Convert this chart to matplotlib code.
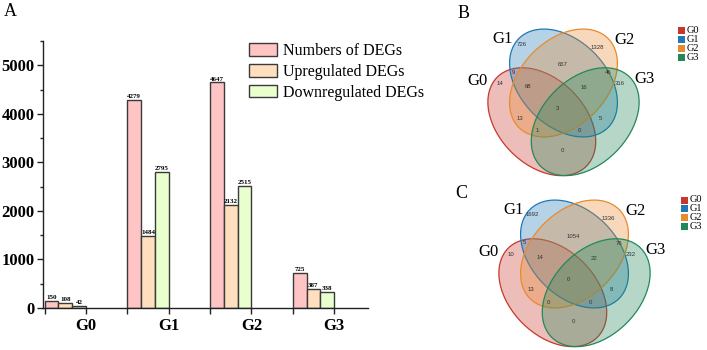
import matplotlib
matplotlib.use('Agg')
import matplotlib.pyplot as plt
from matplotlib.patches import Ellipse, Rectangle
from matplotlib.ticker import MultipleLocator
import numpy as np

plt.rcParams['font.family'] = ['Liberation Serif', 'DejaVu Serif']

# ---------------- data ----------------
groups = ['G0', 'G1', 'G2', 'G3']
numbers_degs = [150, 4279, 4647, 725]
up_degs = [108, 1484, 2132, 387]
down_degs = [42, 2795, 2515, 338]
series_names = ['Numbers of DEGs', 'Upregulated DEGs', 'Downregulated DEGs']

venn_sets = ['G0', 'G1', 'G2', 'G3']
# membership over (G0, G1, G2, G3)
region_keys = ['1000', '0100', '0010', '0001', '1100', '0110', '0011', '1010',
               '0101', '1001', '1110', '0111', '1011', '1101', '1111']
up_counts = [14, 726, 1328, 316, 9, 657, 46, 13, 5, 0, 68, 16, 1, 0, 3]
down_counts = [10, 1692, 1336, 232, 5, 1054, 76, 13, 8, 0, 14, 22, 0, 0, 0]

# ---------------- styles / layout ----------------
W, H = 707, 350
bar_colors = ['#FFC4C4', '#FFDFBE', '#E9FFCD']
bar_edge = '#3a3a3a'
venn_colors = ['#C8372D', '#1F78B8', '#E88B2E', '#22885A']

fig = plt.figure(figsize=(W / 100, H / 100), dpi=100)

# ---------------- panel A: bar chart ----------------
ax = fig.add_axes([43 / W, 1 - 308 / H, (368 - 43) / W, (308 - 41) / H])
x = np.arange(len(groups))
w = 1 / 6
for k, (vals, c, name) in enumerate(zip([numbers_degs, up_degs, down_degs], bar_colors, series_names)):
    pos = x - 0.5 + (k + 0.5) * w
    ax.bar(pos, vals, width=w, color=c, edgecolor=bar_edge, linewidth=1.0, label=name, zorder=2)
    for p, v in zip(pos, vals):
        ax.annotate(str(v), (p, v), xytext=(0, 0.6), textcoords='offset points',
                    ha='center', va='bottom', fontsize=5, fontweight='bold')

ax.set_xlim(-0.52, 3.41)
ax.set_ylim(0, 5500)
for s in ['top', 'right']:
    ax.spines[s].set_visible(False)
for s in ['left', 'bottom']:
    ax.spines[s].set_linewidth(1.0)
    ax.spines[s].set_color('#222222')
ax.set_xticks(x)
ax.set_xticklabels(groups, fontsize=12, fontweight='bold')
ax.set_xticks(x - 0.5, minor=True)
ax.yaxis.set_major_locator(MultipleLocator(1000))
ax.yaxis.set_minor_locator(MultipleLocator(500))
for lbl in ax.get_yticklabels():
    lbl.set_fontweight('bold')
    lbl.set_fontsize(12)
ax.tick_params(axis='both', which='major', direction='out', length=4, width=1, colors='#222222', pad=2)
ax.tick_params(axis='both', which='minor', direction='out', length=2.5, width=1, colors='#222222')
ax.tick_params(axis='x', which='minor', length=4)
ax.tick_params(axis='x', which='major', pad=3.5)
ax.tick_params(labelcolor='black')

ax.legend(loc='upper left', bbox_to_anchor=(249 / W, 1 - 43 / H), bbox_transform=fig.transFigure,
          frameon=False, fontsize=11.5, handlelength=1.75, handleheight=0.85,
          handletextpad=0.35, labelspacing=0.3, borderpad=0, borderaxespad=0)

fig.text(10.5 / W, 1 - 11 / H, 'A', fontsize=13, ha='center', va='center')

# ---------------- panels B and C: Venn diagrams ----------------
axv = fig.add_axes([0, 0, 1, 1])
axv.set_xlim(0, W)
axv.set_ylim(H, 0)
axv.axis('off')

a_ax, b_ax = 63, 43
ell_offsets = [(-21.7, 21.7, 45), (0, -17, 45), (0, -17, -45), (21.7, 21.7, -45)]
set_label_offsets = [(-86, -19), (-61, -61), (61, -60), (81, -21)]
region_offsets = {
    '1000': (-64, -16.7), '0100': (-42, -56), '0010': (33.4, -52.7), '0001': (56.5, -16.5),
    '1100': (-50, -28), '0110': (-1, -35), '0011': (44.4, -27.3), '1010': (-43.3, 18.8),
    '0101': (37.4, 18.3), '1001': (-1, 50.7), '1110': (-35, -13.3), '0111': (20, -12.7),
    '1011': (-26, 31), '1101': (16, 31), '1111': (-5.6, 8.3),
}


def draw_venn(cx, cy, counts, letter, letter_xy, leg_x, leg_y0, leg_dy):
    for (dx, dy, ang), col in zip(ell_offsets, venn_colors):
        rgb = matplotlib.colors.to_rgb(col)
        axv.add_patch(Ellipse((cx + dx, cy + dy), 2 * a_ax, 2 * b_ax, angle=ang,
                              facecolor=(*rgb, 0.33), edgecolor=col, linewidth=0.9))
    for key, val in zip(region_keys, counts):
        dx, dy = region_offsets[key]
        axv.text(cx + dx, cy + dy, str(val), ha='center', va='center', fontsize=4.3,
                 color='#333333', family=['Liberation Sans', 'DejaVu Sans'])
    for name, (dx, dy) in zip(venn_sets, set_label_offsets):
        axv.text(cx + dx, cy + dy, name, ha='center', va='center', fontsize=12, color='black')
    axv.text(letter_xy[0], letter_xy[1], letter, ha='center', va='center', fontsize=13)
    for i, (name, col) in enumerate(zip(venn_sets, venn_colors)):
        yy = leg_y0 + i * leg_dy
        axv.add_patch(Rectangle((leg_x - 3.5, yy - 3.5), 7, 7, facecolor=col, edgecolor='none'))
        axv.text(leg_x + 5.5, yy, name, ha='left', va='center', fontsize=7.5)


draw_venn(563.5, 100, up_counts, 'B', (463.5, 14), 681.5, 30.5, 9)
draw_venn(574.5, 271, down_counts, 'C', (461, 194), 684, 200, 8.7)

fig.savefig('out.png', dpi=100)
